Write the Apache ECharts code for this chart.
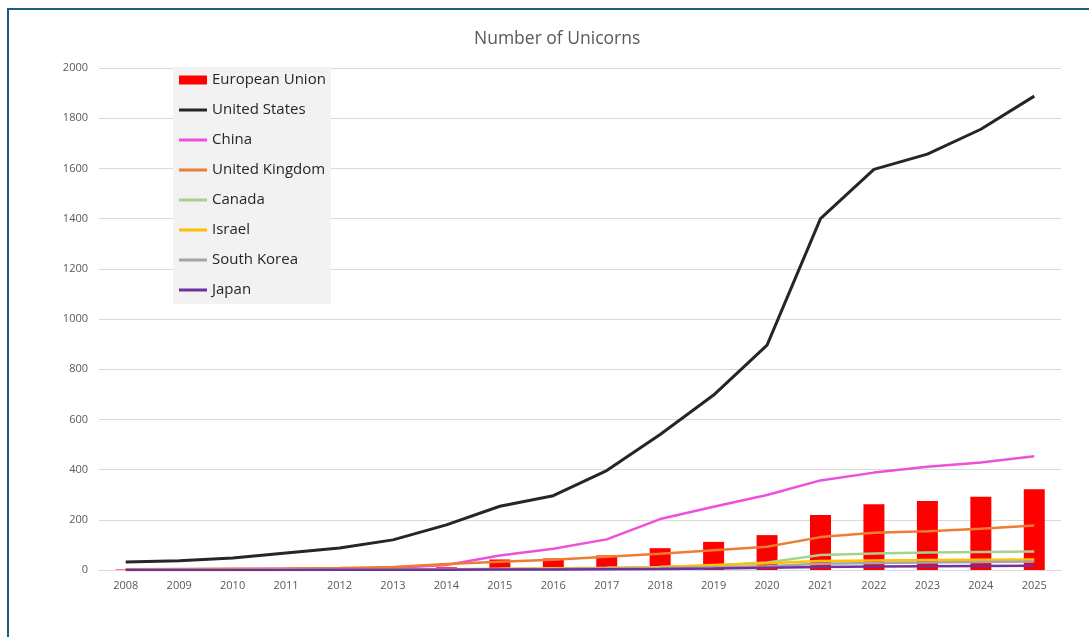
<!DOCTYPE html>
<html>
<head>
<meta charset="utf-8">
<title>Number of Unicorns</title>
<script src="https://cdn.jsdelivr.net/npm/echarts@6/dist/echarts.min.js"></script>
<style>
  html, body { margin: 0; padding: 0; background: #fff; }
  #frame {
    position: absolute; left: 7px; top: 8px; width: 1082px; height: 629px;
    border-top: 2px solid #1f5b7d; border-left: 2px solid #1f5b7d;
    box-sizing: border-box;
  }
  #main { position: absolute; left: 0; top: 0; width: 1089px; height: 637px; }
</style>
</head>
<body>
<div id="frame"></div>
<div id="main"></div>
<script>
// 年份
let years = ['2008', '2009', '2010', '2011', '2012', '2013', '2014', '2015', '2016',
  '2017', '2018', '2019', '2020', '2021', '2022', '2023', '2024', '2025']
// 各国独角兽数量
let euData = [2, 3, 3, 4, 5, 6, 11, 42, 46, 58, 87, 112, 139, 219, 262, 275, 292, 322]
let usData = [32, 37, 48, 68, 88, 120, 180, 254, 296, 396, 540, 697, 896, 1400, 1596, 1657, 1756, 1888]
let chinaData = [2, 3, 4, 5, 6, 8, 20, 58, 85, 122, 203, 252, 299, 357, 388, 411, 428, 453]
let ukData = [3, 4, 5, 6, 8, 12, 24, 33, 41, 53, 65, 79, 93, 131, 148, 154, 164, 177]
let canadaData = [0, 1, 1, 1, 2, 2, 3, 5, 7, 9, 12, 18, 30, 60, 66, 70, 72, 74]
let israelData = [0, 0, 1, 1, 1, 2, 3, 4, 6, 8, 12, 20, 27, 36, 38, 40, 41, 42]
let koreaData = [0, 0, 0, 1, 1, 1, 2, 3, 4, 6, 8, 11, 15, 25, 28, 30, 32, 34]
let japanData = [0, 0, 0, 0, 1, 1, 1, 2, 2, 3, 4, 6, 9, 12, 14, 15, 16, 17]
// y轴刻度
let yMin = 0
let yMax = 2000
let yStep = 200

let lines = [
  {name: 'United States', data: usData, color: '#262626', width: 3},
  {name: 'China', data: chinaData, color: '#ee4fdb', width: 2.5},
  {name: 'United Kingdom', data: ukData, color: '#ed7d31', width: 2.5},
  {name: 'Canada', data: canadaData, color: '#a9d18e', width: 2.5},
  {name: 'Israel', data: israelData, color: '#ffc000', width: 2.5},
  {name: 'South Korea', data: koreaData, color: '#a5a5a5', width: 2.5},
  {name: 'Japan', data: japanData, color: '#7030a0', width: 2.5}
]

const chart = echarts.init(document.getElementById('main'))

let series = [{
  name: 'European Union',
  type: 'bar',
  data: euData,
  barWidth: 21,
  itemStyle: {color: '#ff0000'}
}]
// 图例数据, 折线用细条图标
let legendData = [{name: 'European Union', icon: 'rect'}]
for (let i in lines) {
  series.push({
    name: lines[i].name,
    type: 'line',
    data: lines[i].data,
    symbol: 'none',
    lineStyle: {color: lines[i].color, width: lines[i].width},
    itemStyle: {color: lines[i].color}
  })
  legendData.push({name: lines[i].name, icon: 'path://M0,0 L28,0 L28,3 L0,3 Z'})
}

let option = {
  animation: false,
  backgroundColor: 'transparent',
  textStyle: {fontFamily: 'Open Sans'},
  title: {
    text: 'Number of Unicorns',
    left: 469,
    top: 25,
    textStyle: {fontSize: 17.5, fontWeight: 'normal', color: '#595959', fontFamily: 'Open Sans'}
  },
  legend: {
    orient: 'vertical',
    left: 173,
    top: 67,
    padding: [5, 5, 6, 6],
    backgroundColor: '#f2f2f2',
    itemWidth: 28,
    itemHeight: 9,
    itemGap: 14,
    textStyle: {fontSize: 15, color: '#262626', lineHeight: 16, fontFamily: 'Open Sans'},
    data: legendData
  },
  grid: {left: 99, right: 28, top: 68, bottom: 67},
  xAxis: {
    type: 'category',
    data: years,
    boundaryGap: true,
    axisLine: {lineStyle: {color: '#d9d9d9'}},
    axisTick: {show: false},
    axisLabel: {color: '#595959', fontSize: 11, margin: 10}
  },
  yAxis: {
    type: 'value',
    min: yMin,
    max: yMax,
    interval: yStep,
    axisLine: {show: false},
    axisTick: {show: false},
    axisLabel: {color: '#595959', fontSize: 11, margin: 11, formatter: v => String(v)},
    splitLine: {lineStyle: {color: '#d9d9d9'}}
  },
  series: series
}
chart.setOption(option)
</script>
</body>
</html>
